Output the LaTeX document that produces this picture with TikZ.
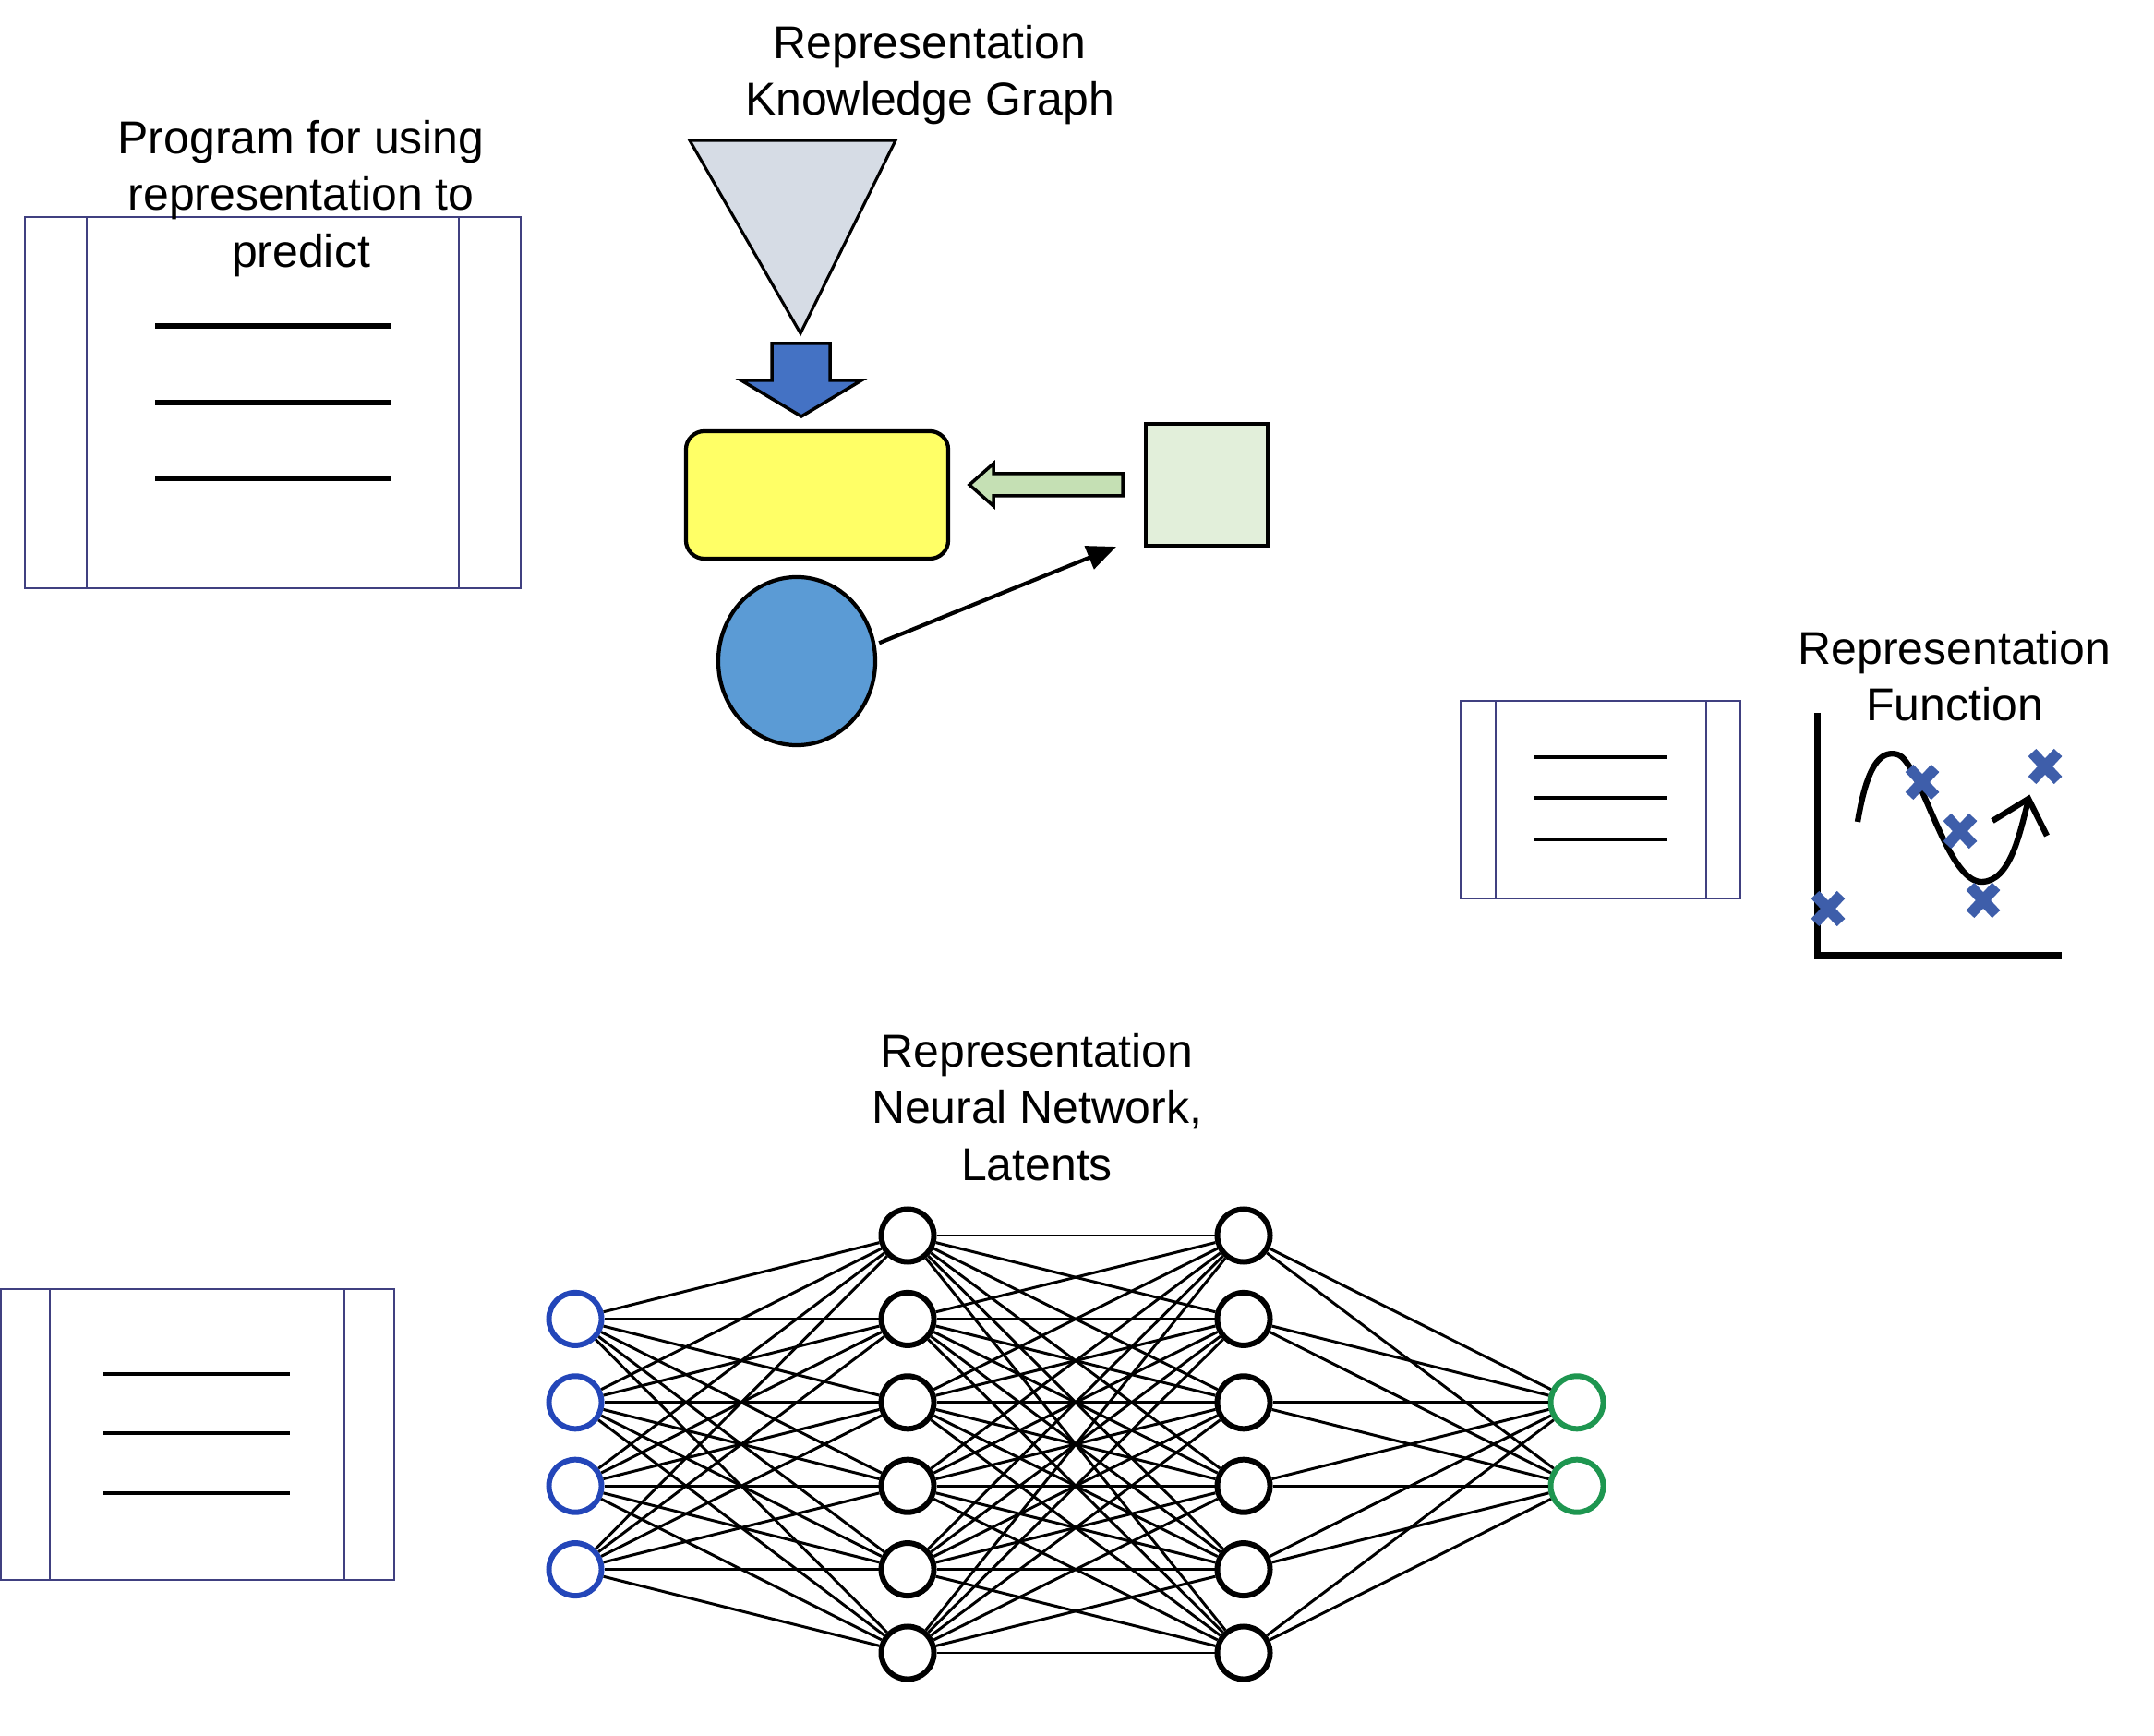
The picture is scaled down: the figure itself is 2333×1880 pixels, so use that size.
\documentclass[tikz,border=0pt]{standalone}
\usepackage{fontspec}
\setmainfont{Liberation Sans}
\usetikzlibrary{arrows.meta,shapes.geometric}
\definecolor{docframe}{RGB}{64,64,128}
\definecolor{trifill}{RGB}{214,220,229}
\definecolor{bluearr}{RGB}{68,114,196}
\definecolor{yelfill}{RGB}{255,255,102}
\definecolor{greenarr}{RGB}{197,224,180}
\definecolor{sqfill}{RGB}{226,239,218}
\definecolor{ellfill}{RGB}{91,155,213}
\definecolor{inblue}{RGB}{35,70,185}
\definecolor{outgreen}{RGB}{30,150,80}
\definecolor{xblue}{RGB}{62,94,170}
\tikzset{
  lbl/.style={font=\fontsize{14.2}{17.4}\selectfont, align=center, inner sep=0pt},
  docbox/.style={draw=docframe, line width=0.4pt},
  docline/.style={draw=black, line width=1.7pt},
  shapeline/.style={draw=black, line width=1.2pt},
  neuron/.style={circle, draw=black, fill=white, line width=1.7pt, minimum size=0.57cm, inner sep=0pt},
  inneuron/.style={neuron, draw=inblue},
  outneuron/.style={neuron, draw=outgreen},
  synapse/.style={draw=black, line width=0.85pt},
  xcross/.pic={\draw[xblue, line width=3.4pt] (-14,-15) -- (14,15) (14,-15) -- (-14,15);}
}
\begin{document}
\begin{tikzpicture}[x=0.01cm, y=-0.01cm]
\useasboundingbox (0,0) rectangle (2333,1880);

% ---------- top-left program box ----------
\draw[docbox] (27,235) rectangle (564,637);
\draw[docbox] (94,235) -- (94,637) (497,235) -- (497,637);
\draw[docline] (168,353) -- (423,353) (168,436) -- (423,436) (168,518) -- (423,518);
\node[lbl] (progtxt) at (326,215) {Program for using\\representation to\\predict};

% ---------- knowledge graph ----------
\node[lbl] (kgtxt) at (1007,81) {Representation\\Knowledge Graph};
\draw[fill=trifill, draw=black, line width=0.9pt, line join=miter] (747,152) -- (970,152) -- (867,361) -- cycle;
\draw[fill=bluearr, draw=black, line width=1pt, line join=miter]
  (836,372) -- (899,372) -- (899,412) -- (933,412) -- (868,451) -- (803,412) -- (836,412) -- cycle;
\node[shapeline, fill=yelfill, rounded corners=0.2cm, minimum width=2.84cm, minimum height=1.38cm, inner sep=0pt] (ymem) at (885,536) {};
\node[shapeline, fill=sqfill, minimum width=1.32cm, minimum height=1.32cm, inner sep=0pt] (sq) at (1307,525) {};
\draw[fill=greenarr, draw=black, line width=1pt, line join=miter]
  (1216,513) -- (1216,537) -- (1076,537) -- (1076,548) -- (1050,525) -- (1076,502) -- (1076,513) -- cycle;
\node[shapeline, ellipse, fill=ellfill, minimum width=1.70cm, minimum height=1.82cm, inner sep=0pt] (ell) at (863,716) {};
\coordinate (arrend) at (1209,592);
\draw[black, line width=1.2pt, -{Triangle[length=9pt,width=7.5pt]}] ([xshift=0.04cm]ell.13) -- (arrend);

% ---------- right program box ----------
\draw[docbox] (1582,759) rectangle (1885,973);
\draw[docbox] (1620,759) -- (1620,973) (1848,759) -- (1848,973);
\draw[docline, line width=1.1pt] (1662,820) -- (1805,820) (1662,864) -- (1805,864) (1662,909) -- (1805,909);

% ---------- representation function ----------
\node[lbl] (fntxt) at (2117,732) {Representation\\Function};
\draw[black, line width=2pt, line join=miter] (1968,772) -- (1968,1035) -- (2233,1035);
\draw[black, line width=1.8pt, line cap=butt]
  (2012,890) .. controls (2022,830) and (2036,812) .. (2055,817)
  .. controls (2080,824) and (2108,955) .. (2146,955)
  .. controls (2178,955) and (2188,900) .. (2197,866);
\draw[black, line width=1.8pt, line join=miter] (2158,889) -- (2197,865) -- (2217,905);
\pic at (1980,984) {xcross};
\pic at (2082,847) {xcross};
\pic at (2123,900) {xcross};
\pic at (2148,975) {xcross};
\pic at (2215,830) {xcross};

% ---------- bottom-left program box ----------
\draw[docbox] (1,1396) rectangle (427,1711);
\draw[docbox] (54,1396) -- (54,1711) (373,1396) -- (373,1711);
\draw[docline, line width=1.4pt] (112,1488) -- (314,1488) (112,1552) -- (314,1552) (112,1617) -- (314,1617);

% ---------- neural network ----------
\node[lbl] (nntxt) at (1123,1199) {Representation\\Neural Network,\\Latents};
\foreach \i in {1,...,4} \node[inneuron] (in\i) at (623,{1338+90.4*\i}) {};
\foreach \i in {1,...,6} \node[neuron] (ha\i) at (983,{1338+90.4*(\i-1)}) {};
\foreach \i in {1,...,6} \node[neuron] (hb\i) at (1347,{1338+90.4*(\i-1)}) {};
\foreach \i in {1,2} \node[outneuron] (out\i) at (1708,{1338+90.4*(\i+1)}) {};
\foreach \a in {1,...,4} \foreach \b in {1,...,6} \draw[synapse] (in\a) -- (ha\b);
\foreach \a in {1,...,6} \foreach \b in {1,...,6} \draw[synapse] (ha\a) -- (hb\b);
\foreach \a in {1,...,6} \foreach \b in {1,2} \draw[synapse] (hb\a) -- (out\b);
\end{tikzpicture}
\end{document}
